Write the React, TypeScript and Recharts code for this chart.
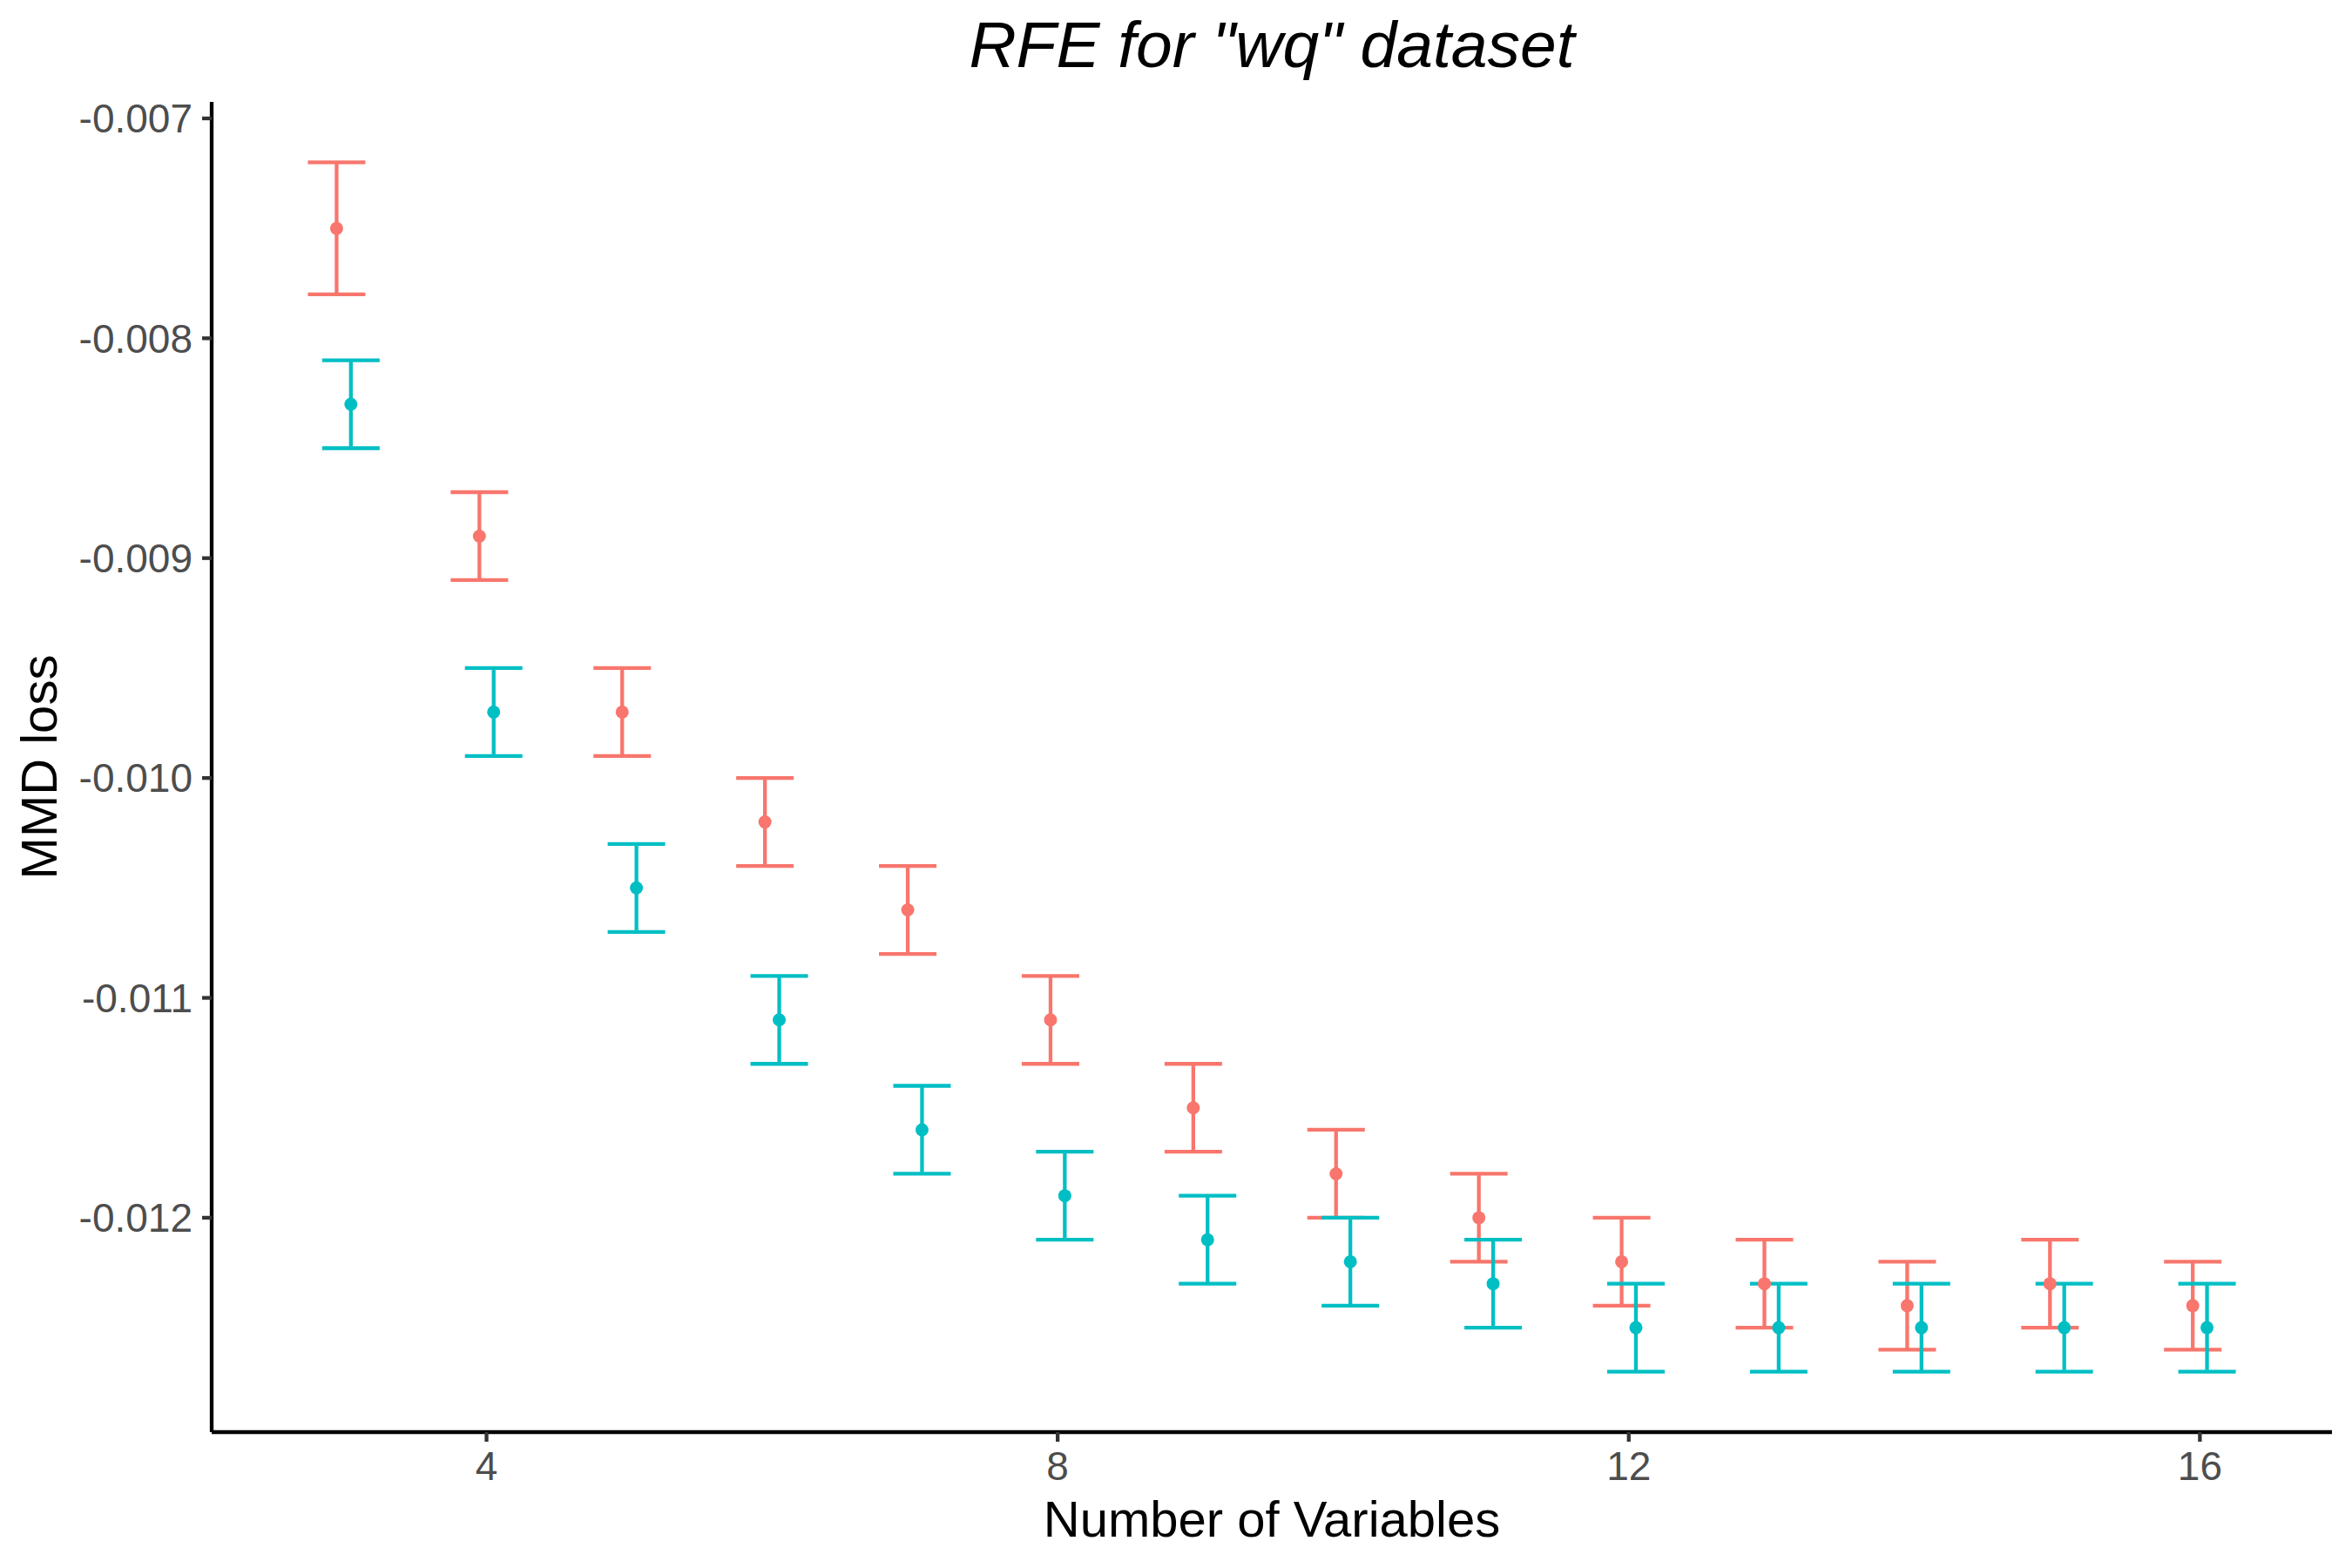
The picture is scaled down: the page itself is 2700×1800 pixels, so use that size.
import React from "react";
import { ScatterChart, Scatter, XAxis, YAxis, ErrorBar } from "recharts";

// Number of variables (x categories)
const nVars = [3, 4, 5, 6, 7, 8, 9, 10, 11, 12, 13, 14, 15, 16];
// Series A (red) means and error half-widths
const seriesAMean = [
  -0.0075, -0.0089, -0.0097, -0.0102, -0.0106, -0.0111, -0.0115, -0.0118,
  -0.012, -0.0122, -0.0123, -0.0124, -0.0123, -0.0124,
];
const seriesAErr = [
  0.0003, 0.0002, 0.0002, 0.0002, 0.0002, 0.0002, 0.0002, 0.0002, 0.0002,
  0.0002, 0.0002, 0.0002, 0.0002, 0.0002,
];
// Series B (teal) means and error half-widths
const seriesBMean = [
  -0.0083, -0.0097, -0.0105, -0.0111, -0.0116, -0.0119, -0.0121, -0.0122,
  -0.0123, -0.0125, -0.0125, -0.0125, -0.0125, -0.0125,
];
const seriesBErr = [
  0.0002, 0.0002, 0.0002, 0.0002, 0.0002, 0.0002, 0.0002, 0.0002, 0.0002,
  0.0002, 0.0002, 0.0002, 0.0002, 0.0002,
];
const xTicks = [4, 8, 12, 16];
const yTicks = [-0.012, -0.011, -0.01, -0.009, -0.008, -0.007];

const RED = "#F8766D";
const TEAL = "#00BFC4";
const DODGE = 0.05;
const FONT = "'Liberation Sans', Arial, Helvetica, sans-serif";

const dataA = nVars.map((n, i) => ({ x: n - DODGE, y: seriesAMean[i], err: seriesAErr[i] }));
const dataB = nVars.map((n, i) => ({ x: n + DODGE, y: seriesBMean[i], err: seriesBErr[i] }));

const dot = (color: string) => (props: any) =>
  props.cx == null ? <g /> : <circle cx={props.cx} cy={props.cy} r={7.5} fill={color} />;
const none = () => <g />;

const tickStyle = { fontSize: 46, fill: "#4D4D4D", fontFamily: FONT };

export default function App() {
  return (
    <div style={{ position: "absolute", left: 0, top: 0, width: 2700, height: 1800, background: "#fff" }}>
      <div
        style={{
          position: "absolute",
          left: 243,
          width: 2434,
          top: 13.5,
          textAlign: "center",
          fontFamily: FONT,
          fontStyle: "italic",
          fontSize: 75,
          lineHeight: "75px",
          color: "#000",
          whiteSpace: "nowrap",
        }}
      >
        RFE for "wq" dataset
      </div>
      <ScatterChart width={2700} height={1800} margin={{ top: 117, right: 23, bottom: 0, left: 0 }}>
        <XAxis
          type="number"
          dataKey="x"
          domain={[2.075, 16.925]}
          ticks={xTicks}
          allowDataOverflow
          height={156}
          tick={tickStyle}
          tickSize={11}
          tickMargin={11}
          axisLine={{ stroke: "#000", strokeWidth: 4.3 }}
          tickLine={{ stroke: "#333333", strokeWidth: 4.3 }}
          label={{
            value: "Number of Variables",
            position: "insideBottom",
            offset: 36,
            style: { fontSize: 58, fill: "#000", fontFamily: FONT },
          }}
        />
        <YAxis
          type="number"
          dataKey="y"
          domain={[-0.012975, -0.006925]}
          ticks={yTicks}
          allowDataOverflow
          width={243}
          tick={tickStyle}
          tickSize={11}
          tickMargin={11}
          tickFormatter={(v: number) => v.toFixed(3)}
          axisLine={{ stroke: "#000", strokeWidth: 4.3 }}
          tickLine={{ stroke: "#333333", strokeWidth: 4.3 }}
          label={{
            value: "MMD loss",
            angle: -90,
            position: "insideLeft",
            offset: 44,
            style: { fontSize: 58, fill: "#000", fontFamily: FONT, textAnchor: "middle" },
          }}
        />
        <Scatter data={dataA} shape={none} isAnimationActive={false}>
          <ErrorBar dataKey="err" direction="y" width={33} stroke={RED} strokeWidth={4.3} isAnimationActive={false} />
        </Scatter>
        <Scatter data={dataB} shape={none} isAnimationActive={false}>
          <ErrorBar dataKey="err" direction="y" width={33} stroke={TEAL} strokeWidth={4.3} isAnimationActive={false} />
        </Scatter>
        <Scatter data={dataA} shape={dot(RED)} isAnimationActive={false} />
        <Scatter data={dataB} shape={dot(TEAL)} isAnimationActive={false} />
      </ScatterChart>
    </div>
  );
}
